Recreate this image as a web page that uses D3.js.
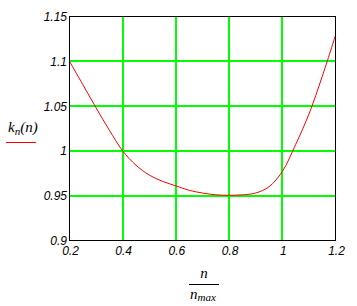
<!DOCTYPE html>
<html>
<head>
<meta charset="utf-8">
<script src="https://cdn.jsdelivr.net/npm/d3@7"></script>
<style>
	body { margin: 0; background: #fff; }
	.tick-label { font-family: "Liberation Sans", Arial, sans-serif; font-style: italic; font-size: 12px; fill: #000; }
	.axis-title { font-family: "Liberation Serif", "Times New Roman", serif; font-style: italic; font-size: 15px; fill: #000; }
</style>
</head>
<body>
<script>
// ratio n/nmax
const ratio = [0.20, 0.25, 0.30, 0.35, 0.40, 0.45, 0.50, 0.55, 0.60, 0.65, 0.70,
	0.75, 0.80, 0.85, 0.90, 0.95, 1.00, 1.05, 1.10, 1.15, 1.20];
// kn(n)
const kn = [1.100, 1.074, 1.048, 1.023, 1.000, 0.984, 0.973, 0.966, 0.961, 0.956, 0.953,
	0.951, 0.9505, 0.951, 0.953, 0.960, 0.977, 1.007, 1.041, 1.083, 1.129];

const xTicks = [0.2, 0.4, 0.6, 0.8, 1, 1.2];
const xTickText = ['0.2', '0.4', '0.6', '0.8', '1', '1.2'];
const yTicks = [0.9, 0.95, 1, 1.05, 1.1, 1.15];
const yTickText = ['0.9', '0.95', '1', '1.05', '1.1', '1.15'];

const width = 357, height = 306;
const svg = d3.select('body').append('svg')
	.attr('width', width)
	.attr('height', height);

const x = d3.scaleLinear().domain([0.2, 1.2]).range([69.5, 335.5]);
const y = d3.scaleLinear().domain([0.9, 1.15]).range([240.5, 16.5]);

// grid
const grid = svg.append('g').attr('shape-rendering', 'crispEdges');
grid.selectAll('line.gx')
	.data(xTicks.slice(1, -1))
	.enter().append('line')
	.attr('x1', d => Math.round(x(d))).attr('x2', d => Math.round(x(d)))
	.attr('y1', y(0.9)).attr('y2', y(1.15))
	.attr('stroke', '#00ff00').attr('stroke-width', 2);
grid.selectAll('line.gy')
	.data(yTicks.slice(1, -1))
	.enter().append('line')
	.attr('y1', d => Math.round(y(d))).attr('y2', d => Math.round(y(d)))
	.attr('x1', x(0.2)).attr('x2', x(1.2))
	.attr('stroke', '#00ff00').attr('stroke-width', 2);

// curve
const line = d3.line()
	.x(d => x(d[0]))
	.y(d => y(d[1]))
	.curve(d3.curveCatmullRom.alpha(0.5));
svg.append('path')
	.datum(d3.zip(ratio, kn))
	.attr('d', line)
	.attr('fill', 'none')
	.attr('stroke', '#ff0000')
	.attr('stroke-width', 1);

// frame
svg.append('rect')
	.attr('x', x(0.2)).attr('y', y(1.15))
	.attr('width', x(1.2) - x(0.2)).attr('height', y(0.9) - y(1.15))
	.attr('fill', 'none').attr('stroke', '#000').attr('stroke-width', 1)
	.attr('shape-rendering', 'crispEdges');

// tick labels
svg.selectAll('text.xt')
	.data(xTicks)
	.enter().append('text')
	.attr('class', 'tick-label')
	.attr('x', d => x(d) + 1)
	.attr('y', 255)
	.attr('text-anchor', 'middle')
	.text((d, i) => xTickText[i]);
svg.selectAll('text.yt')
	.data(yTicks)
	.enter().append('text')
	.attr('class', 'tick-label')
	.attr('x', 67)
	.attr('y', d => y(d) + 4.5)
	.attr('text-anchor', 'end')
	.text((d, i) => yTickText[i]);

// y title k_n(n) with legend line
const yt = svg.append('text').attr('class', 'axis-title').attr('x', 8).attr('y', 132);
yt.append('tspan').text('k');
yt.append('tspan').attr('font-size', '11px').attr('dy', 3).text('n');
yt.append('tspan').attr('dy', -3).text('(n)');
svg.append('line')
	.attr('x1', 6).attr('x2', 36).attr('y1', 142.5).attr('y2', 142.5)
	.attr('stroke', '#ff0000').attr('stroke-width', 1);

// x title n / n_max
svg.append('text').attr('class', 'axis-title')
	.attr('x', 204).attr('y', 278).attr('text-anchor', 'middle').text('n');
svg.append('line')
	.attr('x1', 189).attr('x2', 219).attr('y1', 284.5).attr('y2', 284.5)
	.attr('stroke', '#000').attr('stroke-width', 1);
const xb = svg.append('text').attr('class', 'axis-title').attr('x', 190).attr('y', 299);
xb.append('tspan').text('n');
xb.append('tspan').attr('font-size', '11px').attr('dy', 2).text('max');
</script>
</body>
</html>
